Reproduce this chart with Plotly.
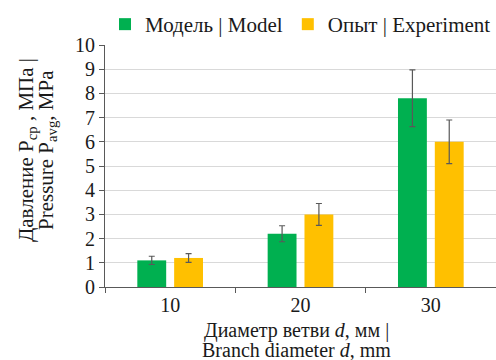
import plotly.graph_objects as go

# Branch diameters and measured / simulated average pressure
diameters = ["10", "20", "30"]
model_vals = [1.1, 2.2, 7.8]
model_err = [0.17, 0.33, 1.17]
exp_vals = [1.2, 3.0, 6.0]
exp_err = [0.18, 0.45, 0.9]
y_ticks = list(range(0, 11))

FONT = "Liberation Serif, Times New Roman, serif"
GREEN = "#00B050"
ORANGE = "#FFC000"
ERR = "#595959"
TXT = "#1A1A1A"

fig = go.Figure()
fig.add_trace(go.Bar(
    name="Модель | Model", x=diameters, y=model_vals, marker_color=GREEN,
    marker_line_width=0,
    error_y=dict(type="data", array=model_err, color=ERR, thickness=1.2, width=3),
))
fig.add_trace(go.Bar(
    name="Опыт | Experiment", x=diameters, y=exp_vals, marker_color=ORANGE,
    marker_line_width=0,
    error_y=dict(type="data", array=exp_err, color=ERR, thickness=1.2, width=3),
))

fig.update_layout(
    width=496, height=360,
    margin=dict(l=105, r=0, t=45, b=73),
    plot_bgcolor="white", paper_bgcolor="white",
    barmode="group", bargap=0.435, bargroupgap=0.216,
    font=dict(family=FONT, size=20, color=TXT),
    legend=dict(orientation="h", x=0.5, xanchor="center", y=1.0, yanchor="bottom",
                font=dict(size=21, family=FONT, color=TXT), itemwidth=30,
                tracegroupgap=0, bgcolor="rgba(0,0,0,0)"),
    showlegend=True,
)
fig.update_yaxes(
    range=[0, 10], tickvals=y_ticks, showgrid=True, gridcolor="#D9D9D9", gridwidth=1,
    showline=True, linecolor="#595959", linewidth=1.2,
    ticks="outside", ticklen=5, tickcolor="#595959", zeroline=False,
    tickfont=dict(size=20, family=FONT, color=TXT),
)
fig.update_xaxes(
    showline=True, linecolor="#595959", linewidth=1.2,
    ticks="outside", ticklen=5, tickcolor="#595959", tickson="boundaries",
    tickfont=dict(size=20, family=FONT, color=TXT),
)

# Y-axis title, two rotated lines
y_title = ["Давление P<sub>ср</sub> , МПа |", "Pressure P<sub>avg</sub>, MPa"]
for line, xs in zip(y_title, [-78, -58]):
    fig.add_annotation(
        text=line, xref="paper", yref="paper", x=0, y=0.566, xshift=xs,
        textangle=-90, showarrow=False, font=dict(size=21, family=FONT, color=TXT),
        xanchor="center", yanchor="middle",
    )

# X-axis title, two lines
x_title = ["Диаметр ветви <i>d</i>, мм |", "Branch diameter <i>d</i>, mm"]
for line, ys in zip(x_title, [-43, -63]):
    fig.add_annotation(
        text=line, xref="paper", yref="paper", x=0.49, y=0, yshift=ys,
        showarrow=False, font=dict(size=20, family=FONT, color=TXT),
        xanchor="center", yanchor="middle",
    )

fig.write_html("out.html")
